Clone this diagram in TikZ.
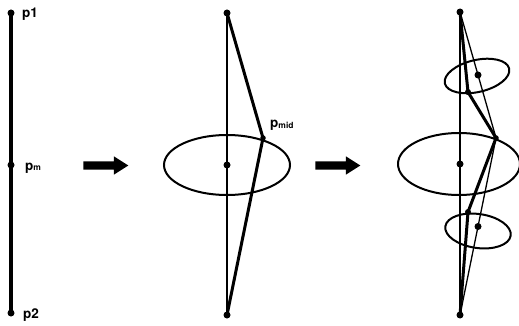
\documentclass[tikz,border=0pt]{standalone}
\usepackage{fontspec}
\setmainfont{TeX Gyre Heros}
\usetikzlibrary{shapes.arrows,calc}
\newcommand{\lbl}[2]{\bfseries\fontsize{13.5}{13.5}\selectfont #1\raisebox{-0.5pt}{\fontsize{8.5}{8.5}\selectfont #2}}
\begin{document}
\begin{tikzpicture}[x=1pt,y=-1pt,
  thinln/.style={line width=1.3pt},
  thickln/.style={line width=3pt, line join=round, line cap=round},
  ell/.style={line width=2pt},
  dotpt/.style={circle, fill=black, inner sep=0pt, minimum size=7pt},
  lab/.style={anchor=base west, inner sep=0pt},
  bigarrow/.style={single arrow, fill=black, draw=none, inner sep=0pt,
    minimum height=45pt, single arrow head extend=5pt, text height=8pt,
    text depth=0pt, text width=0pt, single arrow tip angle=65, shape border rotate=0}]
\useasboundingbox (0,0) rectangle (519,326);
% ---- panel 1
\coordinate (a1) at (11,13);
\coordinate (am) at (11,165);
\coordinate (a2) at (11,313);
\draw[line width=3.5pt] (a1) -- (a2);
\node[dotpt] (da1) at (a1) {};
\node[dotpt] (dam) at (am) {};
\node[dotpt] (da2) at (a2) {};
\node[lab] (l1) at (22,18) {\lbl{p1}{}};
\node[lab] (lm) at (25,170) {\lbl{p}{m}};
\node[lab] (l2) at (23,318) {\lbl{p2}{}};
% ---- arrows
\node[bigarrow] (arr1) at (102.5,165.5) {};
\node[bigarrow] (arr2) at (334.5,165.5) {};
% ---- panel 2
\coordinate (b1) at (227,13);
\coordinate (bm) at (227,165);
\coordinate (b2) at (227,315);
\coordinate (bp) at (263,138);
\draw[ell] (bm) ellipse [x radius=63, y radius=30];
\draw[thinln] (b1) -- (b2);
\draw[thickln] (b1) -- (bp) -- (b2);
\node[dotpt] (db1) at (b1) {};
\node[dotpt] (dbm) at (bm) {};
\node[dotpt] (db2) at (b2) {};
\node[dotpt, minimum size=5.5pt] (dbp) at (bp) {};
\node[lab] (lmid) at (270,128) {\lbl{p}{mid}};
% ---- panel 3
\coordinate (c1) at (460,12);
\coordinate (cm) at (460,164);
\coordinate (c2) at (460,315);
\coordinate (cp) at (496,138);
\coordinate (cA) at (468,92);
\coordinate (cB) at (468,212);
\coordinate (cu) at ($(c1)!0.5!(cp)$);
\coordinate (cl) at ($(cp)!0.5!(c2)$);
\draw[ell] (459,164) ellipse [x radius=61, y radius=31];
\draw[ell, rotate around={13:(477,76)}] (477,76) ellipse [x radius=33, y radius=16];
\draw[ell, rotate around={-8:(478,231)}] (478,231) ellipse [x radius=33, y radius=17];
\draw[thinln] (c1) -- (c2);
\draw[thinln] (c1) -- (cp) -- (c2);
\draw[thickln] (c1) -- (cA) -- (cp) -- (cB) -- (c2);
\node[dotpt] (dc1) at (c1) {};
\node[dotpt] (dcm) at (cm) {};
\node[dotpt] (dc2) at (c2) {};
\node[dotpt, minimum size=5.5pt] (dcp) at (cp) {};
\node[dotpt, minimum size=6pt] (dcA) at (cA) {};
\node[dotpt, minimum size=6pt] (dcB) at (cB) {};
\node[dotpt] (dcu) at (cu) {};
\node[dotpt] (dcl) at (cl) {};
\end{tikzpicture}
\end{document}
